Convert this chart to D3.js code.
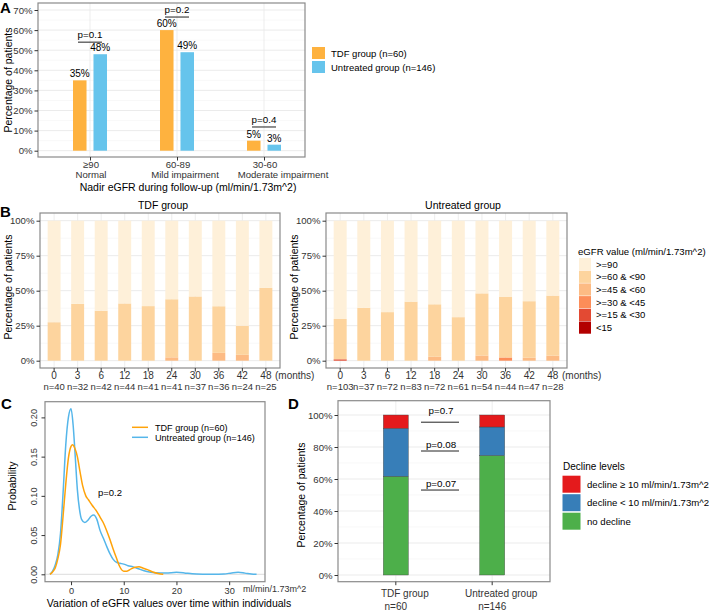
<!DOCTYPE html>
<html><head><meta charset="utf-8">
<script src="https://cdn.jsdelivr.net/npm/d3@7"></script>
<style>body{margin:0;background:#fff} svg{display:block}</style>
</head><body>
<svg id="c" width="709" height="610"></svg>
<script>
// ---------------- DATA ----------------
// Panel A
const nadirCats = ["≥90|Normal", "60-89|Mild impairment", "30-60|Moderate impairment"];
const nadirTDF = [35, 60, 5];
const nadirUnt = [48, 49, 3];
const nadirP = ["p=0.1", "p=0.2", "p=0.4"];
const nadirPLevel = [54, 66.5, 11.8];
const pctTicksA = [0, 10, 20, 30, 40, 50, 60, 70];
const groupNamesA = ["TDF group (n=60)", "Untreated group (n=146)"];

// Panel B
const months = ["0", "3", "6", "12", "18", "24", "30", "36", "42", "48"];
const nTDF = [40, 32, 42, 44, 41, 41, 37, 36, 24, 25];
const nUnt = [103, 37, 72, 83, 72, 61, 54, 44, 47, 28];
const egfrLevels = ["<15", ">=15 & <30", ">=30 & <45", ">=45 & <60", ">=60 & <90", ">=90"];
const tdf_lt15  = [0, 0, 0, 0, 0, 0, 0, 0, 0, 0];
const tdf_15_30 = [0, 0, 0, 0, 0, 0, 0, 0, 0, 0];
const tdf_30_45 = [0, 0, 0, 0, 0, 0, 0, 0, 0, 0];
const tdf_45_60 = [0, 0, 0, 0, 0, 2.4, 0, 5.6, 4.2, 0];
const tdf_60_90 = [27.5, 40.6, 35.7, 40.9, 39.0, 41.5, 45.9, 33.3, 20.8, 52.0];
const tdf_ge90  = [72.5, 59.4, 64.3, 59.1, 61.0, 56.1, 54.1, 61.1, 75.0, 48.0];
const unt_lt15  = [0, 0, 0, 0, 0, 0, 0, 0, 0, 0];
const unt_15_30 = [1.0, 0, 0, 0, 0, 0, 0, 0, 0, 0];
const unt_30_45 = [0, 0, 0, 0, 0, 0, 0, 2.3, 0, 0];
const unt_45_60 = [0, 0, 0, 0, 2.8, 0, 3.7, 0, 2.1, 3.6];
const unt_60_90 = [28.8, 37.8, 34.7, 42.2, 37.5, 31.1, 44.4, 43.2, 40.4, 42.9];
const unt_ge90  = [70.2, 62.2, 65.3, 57.8, 59.7, 68.9, 51.9, 54.5, 57.5, 53.5];
const pctTicksB = [0, 25, 50, 75, 100];

// Panel C (density estimates)
const tdfDensX = [-4, -3.5, -3, -2.5, -2, -1.5, -1, -0.5, 0, 0.3, 0.7, 1.2, 1.7, 2.2, 2.8, 3.3, 4, 4.9, 5.5, 6.1, 6.8, 7.4, 8, 8.6, 9.3, 10, 10.6, 11.4, 12.2, 12.9, 13.6, 14.5, 15.5, 16.5, 17.5];
const tdfDensY = [0, 0.003, 0.008, 0.02, 0.038, 0.075, 0.115, 0.148, 0.163, 0.165, 0.161, 0.15, 0.131, 0.113, 0.1, 0.095, 0.088, 0.08, 0.073, 0.066, 0.055, 0.044, 0.032, 0.021, 0.009, 0.004, 0.004, 0.007, 0.009, 0.0095, 0.008, 0.006, 0.003, 0.001, 0];
const untDensX = [-4, -3.5, -3, -2.5, -2, -1.5, -1, -0.5, 0, 0.4, 0.8, 1.2, 1.6, 2.0, 2.6, 3.2, 3.8, 4.3, 4.9, 5.5, 6.2, 6.8, 7.4, 8.0, 8.7, 9.3, 10, 10.8, 11.8, 12.8, 14.4, 16, 18, 20, 21.5, 23, 25, 27, 29, 30.5, 31.7, 33, 34.2, 35.2];
const untDensY = [0, 0.004, 0.012, 0.025, 0.052, 0.105, 0.165, 0.2, 0.211, 0.19, 0.15, 0.108, 0.083, 0.07, 0.066, 0.069, 0.074, 0.0756, 0.07, 0.056, 0.045, 0.035, 0.026, 0.019, 0.015, 0.014, 0.013, 0.011, 0.0095, 0.007, 0.0035, 0.002, 0.0015, 0.0025, 0.0018, 0.0006, 0.0002, 0.0001, 0.0004, 0.0018, 0.0025, 0.0015, 0.0004, 0];
const densTicksY = [0, 0.05, 0.10, 0.15, 0.20];
const densTicksX = [0, 10, 20, 30];
const groupNamesC = ["TDF group (n=60)", "Untreated group (n=146)"];

// Panel D
const declineGroups = ["TDF group", "Untreated group"];
const declineN = [60, 146];
const noDecline = [61.7, 74.7];
const declineLt10 = [30.0, 17.8];
const declineGe10 = [8.3, 7.5];
const declineKeys = ["decline ≥ 10 ml/min/1.73m^2", "decline < 10 ml/min/1.73m^2", "no decline"];
const declineP = ["p=0.7", "p=0.08", "p=0.07"];
const declinePLevel = [95.5, 77.5, 53.1];
const pctTicksD = [0, 20, 40, 60, 80, 100];

// ---------------- STYLE ----------------
const FONT = "'Liberation Sans', Arial, Helvetica, sans-serif";
const ORANGE = "#FEB23F", BLUE = "#66C4EC";
const ORANGE_L = "#FFA30A", BLUE_L = "#55B6EA";
const OrRd = ["#b30000", "#e34a33", "#fc8d59", "#fdbb84", "#fdd49e", "#fef0d9"];
const SET1 = ["#e41a1c", "#377eb8", "#4daf4a"];
const GRID = "#e9e9e9", MINOR = "#f3f3f3", FRAME = "#8a8a8a", TXT = "#333";

const svg = d3.select("#c").style("font-family", FONT);

function frame(g, x0, x1, y0, y1) {
  g.append("rect").attr("x", x0).attr("y", y0).attr("width", x1 - x0).attr("height", y1 - y0)
    .attr("fill", "none").attr("stroke", FRAME).attr("stroke-width", 1.2);
}
function hgrid(g, vals, y, x0, x1, col, w) {
  g.append("g").selectAll("line").data(vals).join("line")
    .attr("x1", x0).attr("x2", x1).attr("y1", d => y(d)).attr("y2", d => y(d))
    .attr("stroke", col).attr("stroke-width", w);
}
function vgrid(g, xs, y0, y1) {
  g.append("g").selectAll("line").data(xs).join("line")
    .attr("x1", d => d).attr("x2", d => d).attr("y1", y0).attr("y2", y1)
    .attr("stroke", GRID).attr("stroke-width", 0.8);
}
function styleAxis(ax, fs) {
  ax.attr("font-family", FONT).attr("font-size", fs);
  ax.select(".domain").remove();
  ax.selectAll("line").attr("stroke", TXT);
  ax.selectAll("text").attr("fill", TXT);
  return ax;
}
function label(txt, x, y, size, opts = {}) {
  const t = svg.append("text").attr("x", x).attr("y", y).text(txt)
    .attr("font-size", size).attr("fill", opts.fill || "#000")
    .attr("text-anchor", opts.anchor || "start");
  if (opts.bold) t.attr("font-weight", "bold");
  if (opts.rotate) t.attr("transform", `rotate(-90,${x},${y})`);
  return t;
}

// ---------------- PANEL A ----------------
(function () {
  const g = svg.append("g");
  const x0 = 38, x1 = 305, y0 = 3, y1 = 157;
  const x = d3.scalePoint().domain(nadirCats).range([90, 264]);
  const y = d3.scaleLinear().domain([0, 70]).range([150.7, 10]);
  const sub = d3.scaleBand().domain(["tdf", "unt"]).range([-17, 17]).paddingInner(0.34);
  hgrid(g, d3.range(5, 70, 10), y, x0, x1, MINOR, 0.6);
  hgrid(g, pctTicksA, y, x0, x1, GRID, 0.9);
  vgrid(g, nadirCats.map(d => x(d)), y0, y1);
  const rows = nadirCats.map((c, i) => ({ c, tdf: nadirTDF[i], unt: nadirUnt[i], p: nadirP[i], pl: nadirPLevel[i] }));
  const series = [["tdf", ORANGE], ["unt", BLUE]];
  series.forEach(([k, col]) => {
    g.append("g").selectAll("rect").data(rows).join("rect")
      .attr("x", d => x(d.c) + sub(k)).attr("width", sub.bandwidth())
      .attr("y", d => y(d[k])).attr("height", d => y(0) - y(d[k])).attr("fill", col);
    g.append("g").selectAll("text").data(rows).join("text")
      .attr("x", d => x(d.c) + sub(k) + sub.bandwidth() / 2).attr("y", d => y(d[k]) - 3)
      .attr("text-anchor", "middle").attr("font-size", 10).text(d => d[k] + "%");
  });
  // p brackets
  g.append("g").selectAll("line").data(rows).join("line")
    .attr("x1", d => x(d.c) - 12).attr("x2", d => x(d.c) + 12)
    .attr("y1", d => y(d.pl)).attr("y2", d => y(d.pl)).attr("stroke", "#333").attr("stroke-width", 1.1);
  g.append("g").selectAll("text").data(rows).join("text")
    .attr("x", d => x(d.c)).attr("y", d => y(d.pl) - 4).attr("text-anchor", "middle")
    .attr("font-size", 9.8).text(d => d.p);
  frame(g, x0, x1, y0, y1);
  const ay = g.append("g").attr("transform", `translate(${x0},0)`)
    .call(d3.axisLeft(y).tickValues(pctTicksA).tickFormat(d => d + "%").tickSize(3.5).tickPadding(2));
  styleAxis(ay, 9.6);
  const ax = g.append("g").attr("transform", `translate(0,${y1})`)
    .call(d3.axisBottom(x).tickSize(3.5).tickFormat(""));
  styleAxis(ax, 10);
  const line2Shift = [1, 8, 19];
  nadirCats.forEach((c, i) => {
    const [a, b] = c.split("|");
    label(a, x(c) + 1, 168, 9.6, { anchor: "middle", fill: TXT });
    label(b, x(c) + line2Shift[i], 178, 9.6, { anchor: "middle", fill: TXT });
  });
  label("Nadir eGFR during follow-up (ml/min/1.73m^2)", 188, 190.5, 10.5, { anchor: "middle" });
  label("Percentage of patients", 12, 80, 10.5, { anchor: "middle", rotate: true });
  // legend
  [ORANGE, BLUE].forEach((col, i) => {
    svg.append("rect").attr("x", 312).attr("y", 47 + i * 14).attr("width", 13).attr("height", 12).attr("fill", col);
    label(groupNamesA[i], 331, 56.5 + i * 14, 9.5);
  });
  label("A", 0, 12.5, 15, { bold: true });
})();

// ---------------- PANEL B ----------------
function panelB(x0, x1, title, titleX, cols, ns) {
  const g = svg.append("g");
  const y0 = 213, y1 = 368;
  const x = d3.scaleBand().domain(months).range([x0, x1]).paddingInner(0.45).paddingOuter(0.325);
  const y = d3.scaleLinear().domain([0, 100]).range([360.7, 220.7]);
  hgrid(g, [12.5, 37.5, 62.5, 87.5], y, x0, x1, MINOR, 0.6);
  hgrid(g, pctTicksB, y, x0, x1, GRID, 0.9);
  vgrid(g, months.map(m => x(m) + x.bandwidth() / 2), y0, y1);
  const table = months.map((m, i) => {
    const o = { m };
    egfrLevels.forEach((lv, j) => o[lv] = cols[j][i]);
    return o;
  });
  const stack = d3.stack().keys(egfrLevels)(table);
  g.append("g").selectAll("g").data(stack).join("g").attr("fill", (d, i) => OrRd[i])
    .selectAll("rect").data(d => d).join("rect")
    .attr("x", d => x(d.data.m)).attr("width", x.bandwidth())
    .attr("y", d => y(d[1])).attr("height", d => Math.max(0, y(d[0]) - y(d[1])));
  frame(g, x0, x1, y0, y1);
  const ay = g.append("g").attr("transform", `translate(${x0},0)`)
    .call(d3.axisLeft(y).tickValues(pctTicksB).tickFormat(d => d + "%").tickSize(3.5).tickPadding(2));
  styleAxis(ay, 9.6);
  const ax = g.append("g").attr("transform", `translate(0,${y1})`)
    .call(d3.axisBottom(x).tickSize(3.5).tickPadding(2));
  styleAxis(ax, 10);
  ax.selectAll("text").attr("dy", null).attr("y", 11);
  g.append("g").selectAll("text").data(months).join("text")
    .attr("x", m => x(m) + x.bandwidth() / 2).attr("y", 389.5).attr("text-anchor", "middle")
    .attr("font-size", 9.5).attr("fill", TXT).text((m, i) => "n=" + ns[i]);
  label("(months)", x1 - 5, 379, 10, { fill: TXT });
  label(title, titleX, 209, 10.5, { anchor: "middle" });
  label("Percentage of patients", x0 - 28, 287, 10.5, { anchor: "middle", rotate: true });
}
panelB(40, 280, "TDF group", 163, [tdf_lt15, tdf_15_30, tdf_30_45, tdf_45_60, tdf_60_90, tdf_ge90], nTDF);
panelB(326, 567, "Untreated group", 463, [unt_lt15, unt_15_30, unt_30_45, unt_45_60, unt_60_90, unt_ge90], nUnt);
label("B", 0, 217, 15, { bold: true });
// legend B
label("eGFR value (ml/min/1.73m^2)", 578, 254.5, 9.6);
egfrLevels.slice().reverse().forEach((lv, i) => {
  svg.append("rect").attr("x", 579).attr("y", 258 + i * 12.7).attr("width", 12).attr("height", 12.2)
    .attr("fill", OrRd[5 - i]);
  label(lv, 596, 267.5 + i * 12.7, 9.5);
});

// ---------------- PANEL C ----------------
(function () {
  const g = svg.append("g");
  const x0 = 45, x1 = 265, y0 = 401.7, y1 = 581.7;
  const x = d3.scaleLinear().domain([-4.94, 36.8]).range([x0, x1]);
  const y = d3.scaleLinear().domain([0, 0.2]).range([574.3, 417.4]);
  g.append("line").attr("x1", x0).attr("x2", x1).attr("y1", y(0)).attr("y2", y(0)).attr("stroke", "#dcdcdc").attr("stroke-width", 1);
  const line = d3.line().x(d => x(d[0])).y(d => y(d[1])).curve(d3.curveMonotoneX);
  const unt = untDensX.map((v, i) => [v, untDensY[i]]);
  const tdf = tdfDensX.map((v, i) => [v, tdfDensY[i]]);
  g.append("path").attr("d", line(unt)).attr("fill", "none").attr("stroke", BLUE_L).attr("stroke-width", 1.5);
  g.append("path").attr("d", line(tdf)).attr("fill", "none").attr("stroke", ORANGE_L).attr("stroke-width", 1.5);
  frame(g, x0, x1, y0, y1);
  const ay = g.append("g").attr("transform", `translate(${x0},0)`)
    .call(d3.axisLeft(y).tickValues(densTicksY).tickFormat(d3.format(".2f")).tickSize(3.5));
  styleAxis(ay, 9.2);
  ay.selectAll("text").attr("x", null).attr("dy", null).attr("text-anchor", "middle")
    .attr("transform", "translate(-8.5,0) rotate(-90)");
  const ax = g.append("g").attr("transform", `translate(0,${y1})`)
    .call(d3.axisBottom(x).tickValues(densTicksX).tickSize(3.5).tickPadding(2));
  styleAxis(ax, 9.2);
  label("ml/min/1.73m^2", 243, 591.5, 9, { fill: TXT });
  label("Variation of eGFR values over time within individuals", 169, 607, 10.5, { anchor: "middle" });
  label("Probability", 16, 486, 10.5, { anchor: "middle", rotate: true });
  label("p=0.2", 98, 495.5, 9.5);
  [ORANGE_L, BLUE_L].forEach((col, i) => {
    g.append("line").attr("x1", 132).attr("x2", 148).attr("y1", 427.3 + i * 10).attr("y2", 427.3 + i * 10)
      .attr("stroke", col).attr("stroke-width", 1.5);
    label(groupNamesC[i], 155, 430.6 + i * 10, 9.1);
  });
  label("C", 1, 409, 15, { bold: true });
})();

// ---------------- PANEL D ----------------
(function () {
  const g = svg.append("g");
  const x0 = 338, x1 = 550, y0 = 400.7, y1 = 581.7;
  const x = d3.scaleBand().domain(declineGroups).range([x0, x1]).paddingInner(0.74).paddingOuter(0.47);
  const y = d3.scaleLinear().domain([0, 100]).range([575, 415]);
  hgrid(g, d3.range(10, 100, 20), y, x0, x1, MINOR, 0.6);
  hgrid(g, pctTicksD, y, x0, x1, GRID, 0.9);
  vgrid(g, declineGroups.map(d => x(d) + x.bandwidth() / 2), y0, y1);
  const table = declineGroups.map((gname, i) => ({ g: gname, no: noDecline[i], lt: declineLt10[i], ge: declineGe10[i] }));
  const stack = d3.stack().keys(["no", "lt", "ge"])(table);
  const colMap = { no: SET1[2], lt: SET1[1], ge: SET1[0] };
  g.append("g").selectAll("g").data(stack).join("g").attr("fill", d => colMap[d.key])
    .selectAll("rect").data(d => d).join("rect")
    .attr("x", d => x(d.data.g)).attr("width", x.bandwidth())
    .attr("y", d => y(d[1])).attr("height", d => y(d[0]) - y(d[1]))
    .attr("stroke", "#444").attr("stroke-width", 0.4);
  const mid = (x(declineGroups[0]) + x(declineGroups[1]) + x.bandwidth()) / 2 - 4;
  const pTextOff = [8, 3, 3];
  g.append("g").selectAll("line").data(declinePLevel).join("line")
    .attr("x1", mid - 19).attr("x2", mid + 19).attr("y1", d => y(d)).attr("y2", d => y(d))
    .attr("stroke", "#222").attr("stroke-width", 1);
  g.append("g").selectAll("text").data(declineP).join("text")
    .attr("x", mid + 1).attr("y", (d, i) => y(declinePLevel[i]) - pTextOff[i]).attr("text-anchor", "middle")
    .attr("font-size", 9.8).text(d => d);
  frame(g, x0, x1, y0, y1);
  const ay = g.append("g").attr("transform", `translate(${x0},0)`)
    .call(d3.axisLeft(y).tickValues(pctTicksD).tickFormat(d => d + "%").tickSize(3.5).tickPadding(2));
  styleAxis(ay, 9.6);
  const ax = g.append("g").attr("transform", `translate(0,${y1})`)
    .call(d3.axisBottom(x).tickSize(3.5).tickFormat(""));
  styleAxis(ax, 10);
  declineGroups.forEach((gname, i) => {
    const cx = x(gname) + x.bandwidth() / 2;
    label(gname, cx + 9, 597, 10, { anchor: "middle", fill: TXT });
    label("n=" + declineN[i], cx, 609.5, 10, { anchor: "middle", fill: TXT });
  });
  label("Percentage of patients", 305, 495, 10.5, { anchor: "middle", rotate: true });
  label("Decline levels", 563, 469.5, 10);
  declineKeys.forEach((k, i) => {
    svg.append("rect").attr("x", 562.5).attr("y", 475.7 + i * 18.5).attr("width", 18).attr("height", 17)
      .attr("fill", SET1[i]);
    label(k, 587, 487.7 + i * 18.5, 9.6);
  });
  label("D", 288, 409, 15, { bold: true });
})();
</script>
</body></html>
